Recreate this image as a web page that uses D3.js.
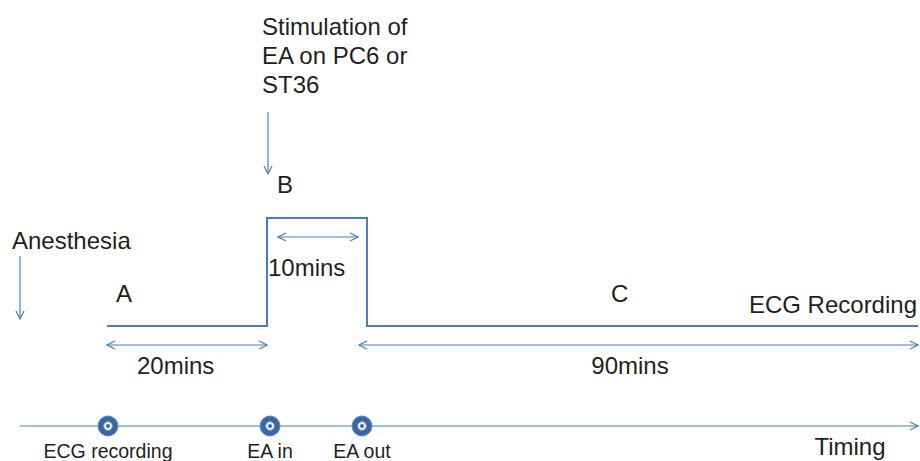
<!DOCTYPE html>
<html>
<head>
<meta charset="utf-8">
<script src="https://cdn.jsdelivr.net/npm/d3@7"></script>
<style>
  body { margin: 0; background: #fff; }
  text { font-family: "Liberation Sans", Arial, sans-serif; fill: #231f20; }
</style>
</head>
<body>
<svg id="chart"></svg>
<script>
// protocol phases (minutes)
const phaseBreaks = [0, 20, 30, 120];
const phaseLabels = ["A", "B", "C"];
const durations = [
  {from: 0, to: 20, label: "20mins"},
  {from: 20, to: 30, label: "10mins"},
  {from: 30, to: 120, label: "90mins"}
];
// step: 0 = baseline, 1 = stimulation
const stepLevels = [
  {t: 0, v: 0}, {t: 20, v: 0}, {t: 20, v: 1},
  {t: 30, v: 1}, {t: 30, v: 0}, {t: 120, v: 0}
];
const events = [
  {t: 0, label: "ECG recording"},
  {t: 20, label: "EA in"},
  {t: 30, label: "EA out"}
];
const stimText = ["Stimulation of", "EA on PC6 or", "ST36"];

const width = 920, height = 461;
const blue = "#4a7ebb";
const big = "24px";

const svg = d3.select("#chart").attr("width", width).attr("height", height);

// piecewise time scale (the diagram is not to scale)
const x = d3.scaleLinear().domain(phaseBreaks).range([107, 267, 367, 918]);
const y = d3.scaleLinear().domain([0, 1]).range([326, 218]);

const defs = svg.append("defs");
defs.append("marker")
    .attr("id", "open")
    .attr("viewBox", "0 0 10 10")
    .attr("refX", 9).attr("refY", 5)
    .attr("markerWidth", 10).attr("markerHeight", 10)
    .attr("markerUnits", "userSpaceOnUse")
    .attr("orient", "auto-start-reverse")
  .append("path")
    .attr("d", "M1,1 L9,5 L1,9")
    .style("fill", "none")
    .style("stroke", blue)
    .style("stroke-width", 1.2);

// step line
const step = d3.line().x(d => x(d.t)).y(d => y(d.v));
svg.append("path")
    .datum(stepLevels)
    .attr("d", step)
    .style("fill", "none")
    .style("stroke", blue)
    .style("stroke-width", 2);

// duration arrows
const durY = [345, 237, 345];
const durPad = [[0, 0], [11, 9], [-8, 0]];
durations.forEach((d, i) => {
  svg.append("line")
      .attr("x1", x(d.from) + durPad[i][0]).attr("x2", x(d.to) - durPad[i][1])
      .attr("y1", durY[i]).attr("y2", durY[i])
      .attr("marker-start", "url(#open)")
      .attr("marker-end", "url(#open)")
      .style("stroke", blue).style("stroke-width", 1.2);
});
svg.append("text").attr("x", 137).attr("y", 374).style("font-size", big).text(durations[0].label);
svg.append("text").attr("x", 268).attr("y", 276).style("font-size", big).text(durations[1].label);
svg.append("text").attr("x", 630).attr("y", 374).style("text-anchor", "middle").style("font-size", big).text(durations[2].label);

// phase letters
svg.append("text").attr("x", 116).attr("y", 302).style("font-size", big).text(phaseLabels[0]);
svg.append("text").attr("x", 277).attr("y", 193).style("font-size", big).text(phaseLabels[1]);
svg.append("text").attr("x", 611).attr("y", 302).style("font-size", big).text(phaseLabels[2]);

svg.append("text").attr("x", 917).attr("y", 313).style("text-anchor", "end").style("font-size", big).text("ECG Recording");

// stimulation note
svg.append("text").attr("x", 262).attr("y", 35).style("font-size", big)
  .selectAll("tspan").data(stimText).join("tspan")
    .attr("x", 262).attr("dy", (d, i) => i ? 29 : 0)
    .text(d => d);
svg.append("line").attr("x1", 268).attr("x2", 268).attr("y1", 112).attr("y2", 174)
    .attr("marker-end", "url(#open)")
    .style("stroke", blue).style("stroke-width", 1.2);

// anesthesia note
svg.append("text").attr("x", 12).attr("y", 249).style("font-size", big).text("Anesthesia");
svg.append("line").attr("x1", 20).attr("x2", 20).attr("y1", 256).attr("y2", 319)
    .attr("marker-end", "url(#open)")
    .style("stroke", blue).style("stroke-width", 1.2);

// timeline
const tlY = 426;
svg.append("line").attr("x1", 20).attr("x2", 918).attr("y1", tlY).attr("y2", tlY)
    .attr("marker-end", "url(#open)")
    .style("stroke", blue).style("stroke-width", 1.2);

const evX = [108, 270, 362];
const ev = svg.selectAll(".ev").data(events).join("g")
    .attr("class", "ev")
    .attr("transform", (d, i) => `translate(${evX[i]},${tlY})`);
ev.append("circle").attr("r", 10).style("fill", "#3a66a5").style("stroke", "#5f8cc4").style("stroke-width", 1);
ev.append("circle").attr("r", 4.2).style("fill", "#fff").style("stroke", "#8aaad6").style("stroke-width", 1);
ev.append("circle").attr("r", 2).style("fill", "#3a66a5");
ev.append("text").attr("y", 32).style("text-anchor", "middle").style("font-size", "19.5px").text(d => d.label);

svg.append("text").attr("x", 850).attr("y", 455).style("text-anchor", "middle").style("font-size", big).text("Timing");
</script>
</body>
</html>
